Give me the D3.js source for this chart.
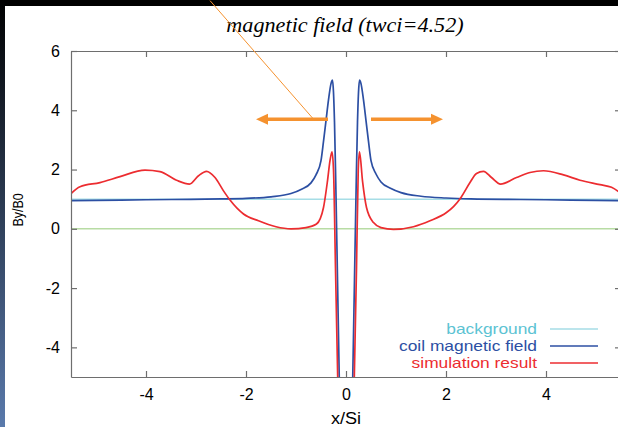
<!DOCTYPE html>
<html>
<head>
<meta charset="utf-8">
<script src="https://cdn.jsdelivr.net/npm/d3@7"></script>
<style>
  body { margin: 0; background: #000; }
  svg { display: block; }
</style>
</head>
<body>
<div id="chart"></div>
<script>
// values, [x/Si, By/B0]
const coilField = [
  [-5.5, 0.95], [-4.5, 0.97], [-3.5, 0.99], [-2.5, 1.01], [-2.0, 1.03], [-1.5, 1.08],
  [-1.1, 1.19], [-0.9, 1.33], [-0.7, 1.55], [-0.6, 1.82], [-0.5, 2.3], [-0.45, 2.95],
  [-0.4, 3.65], [-0.35, 4.35], [-0.3, 4.9], [-0.27, 5.02], [-0.25, 4.6], [-0.23, 3.6],
  [-0.205, 1.6], [-0.17, -1.7], [-0.135, -5.0], [-0.1, -8.0],
  [0.1, -8.0], [0.135, -5.0], [0.17, -1.7], [0.205, 1.6], [0.23, 3.6], [0.25, 4.6],
  [0.27, 5.02], [0.3, 4.9], [0.35, 4.35], [0.4, 3.65], [0.45, 2.95], [0.5, 2.3],
  [0.6, 1.85], [0.7, 1.58], [0.9, 1.36], [1.1, 1.22], [1.5, 1.1], [2.0, 1.04],
  [2.5, 1.01], [3.5, 0.99], [4.5, 0.97], [5.5, 0.95]
];
const simResult = [
  [-5.5, 1.19], [-5.32, 1.42], [-4.92, 1.56], [-4.52, 1.76], [-4.02, 1.98], [-3.72, 1.93],
  [-3.39, 1.64], [-3.13, 1.51], [-2.95, 1.79], [-2.79, 1.94], [-2.62, 1.73], [-2.45, 1.28],
  [-2.32, 0.97], [-2.05, 0.5], [-1.75, 0.27], [-1.4, 0.07], [-1.1, 0.0], [-0.8, 0.04],
  [-0.59, 0.16], [-0.45, 0.72], [-0.37, 1.62], [-0.32, 2.3], [-0.28, 2.6], [-0.25, 2.0],
  [-0.21, -1.33], [-0.166, -5.0], [-0.13, -8.0],
  [0.13, -8.0], [0.166, -5.0], [0.21, -1.33], [0.245, 2.0], [0.27, 2.6], [0.33, 1.62],
  [0.41, 0.72], [0.55, 0.21], [0.7, 0.04], [0.95, -0.02], [1.35, 0.07], [1.68, 0.27],
  [2.01, 0.55], [2.15, 0.75], [2.3, 1.06], [2.48, 1.56], [2.61, 1.87], [2.75, 1.94],
  [2.91, 1.73], [3.09, 1.51], [3.41, 1.73], [3.68, 1.9], [3.95, 1.96], [4.35, 1.82],
  [4.68, 1.64], [5.08, 1.49], [5.31, 1.4], [5.5, 1.2]
];
const background = [[-5.5, 1], [5.5, 1]];
const zeroLine = [[-5.5, 0], [5.5, 0]];

const xTicks = [-4, -2, 0, 2, 4];
const yTicks = [-4, -2, 0, 2, 4, 6];
const legendNames = ['background', 'coil magnetic field', 'simulation result'];
const colors = { bg: '#a6dde6', bgText: '#5cc3d3', coil: '#2c4fa3', sim: '#ec2c30', zero: '#b8dca4' };

const width = 618, height = 427;
const margin = { top: 51, right: -3, bottom: 50, left: 71 };
const sans = 'Liberation Sans, Arial, sans-serif';
const stretch = 1.13; // the source text is a little wider than tall

const svg = d3.select('#chart').append('svg')
  .attr('width', width)
  .attr('height', height);

// slide background bits
const defs = svg.append('defs');
const grad = defs.append('linearGradient')
  .attr('id', 'side').attr('x1', 0).attr('y1', 0).attr('x2', 0).attr('y2', 1);
grad.append('stop').attr('offset', '0%').attr('stop-color', '#000');
grad.append('stop').attr('offset', '100%').attr('stop-color', '#5a7aac');
svg.append('rect').attr('width', width).attr('height', height).attr('fill', '#000');
svg.append('rect').attr('x', 0).attr('y', 0).attr('width', 5).attr('height', height).attr('fill', 'url(#side)');
svg.append('rect').attr('x', 5).attr('y', 6).attr('width', width - 5).attr('height', height - 6).attr('fill', '#fff');

const x = d3.scaleLinear().domain([-5.5, 5.5]).range([margin.left, width - margin.right]);
const y = d3.scaleLinear().domain([-5, 6]).range([height - margin.bottom, margin.top]);

defs.append('clipPath').attr('id', 'plot')
  .append('rect')
  .attr('x', x(-5.5)).attr('y', y(6))
  .attr('width', x(5.5) - x(-5.5)).attr('height', y(-5) - y(6));

const line = d3.line().x(d => x(d[0])).y(d => y(d[1])).curve(d3.curveMonotoneX);

const plot = svg.append('g').attr('clip-path', 'url(#plot)');
plot.append('path').datum(zeroLine).attr('d', line)
  .attr('fill', 'none').attr('stroke', colors.zero).attr('stroke-width', 1.5);
plot.append('path').datum(background).attr('d', line)
  .attr('fill', 'none').attr('stroke', colors.bg).attr('stroke-width', 1.5);
plot.append('path').datum(coilField).attr('d', line)
  .attr('fill', 'none').attr('stroke', colors.coil).attr('stroke-width', 1.7);
plot.append('path').datum(simResult).attr('d', line)
  .attr('fill', 'none').attr('stroke', colors.sim).attr('stroke-width', 1.7);

// axes, ticks pointing inward on all four sides
const axisColor = '#6e6e6e';
const plain = d => String(d); // hyphen minus like the source
function styleAxis(g) {
  g.selectAll('.domain').attr('stroke', axisColor).attr('stroke-width', 1.2);
  g.selectAll('.tick line').attr('stroke', axisColor).attr('stroke-width', 1.2);
  g.selectAll('.tick text').attr('fill', '#000')
    .attr('font-family', sans).attr('font-size', 16);
}
svg.append('g')
  .attr('transform', `translate(0,${y(-5)})`)
  .call(d3.axisBottom(x).tickValues(xTicks).tickFormat(plain).tickSizeInner(-6).tickSizeOuter(0).tickPadding(12))
  .call(styleAxis);
svg.append('g')
  .attr('transform', `translate(0,${y(6)})`)
  .call(d3.axisTop(x).tickValues(xTicks).tickSizeInner(-6).tickSizeOuter(0).tickFormat(''))
  .call(styleAxis);
svg.append('g')
  .attr('transform', `translate(${x(-5.5)},0)`)
  .call(d3.axisLeft(y).tickValues(yTicks).tickFormat(plain).tickSizeInner(-6).tickSizeOuter(0).tickPadding(11))
  .call(styleAxis);
svg.append('g')
  .attr('transform', `translate(${x(5.5)},0)`)
  .call(d3.axisRight(y).tickValues(yTicks).tickSizeInner(-6).tickSizeOuter(0).tickFormat(''))
  .call(styleAxis);

// titles
svg.append('text')
  .attr('transform', 'translate(345,32) scale(1.11,1)')
  .attr('text-anchor', 'middle')
  .attr('font-family', 'Liberation Serif, Times New Roman, serif')
  .attr('font-style', 'italic').attr('font-size', 20)
  .text('magnetic field (twci=4.52)');
svg.append('text')
  .attr('transform', `translate(${x(0)},424) scale(${stretch},1)`)
  .attr('text-anchor', 'middle')
  .attr('font-family', sans).attr('font-size', 16)
  .text('x/Si');
svg.append('text')
  .attr('transform', `translate(23,${y(0.64)}) scale(${stretch},1) rotate(-90)`)
  .attr('text-anchor', 'middle')
  .attr('font-family', sans).attr('font-size', 12.5)
  .text('By/B0');

// legend
const legendColors = [colors.bg, colors.coil, colors.sim];
const legendText = [colors.bgText, colors.coil, colors.sim];
const legend = svg.append('g').selectAll('g')
  .data(legendNames)
  .join('g')
  .attr('transform', (d, i) => `translate(0,${329 + i * 17})`);
legend.append('text')
  .attr('transform', 'translate(537,5) scale(1.19,1)')
  .attr('text-anchor', 'end')
  .attr('font-family', sans).attr('font-size', 14.6)
  .attr('fill', (d, i) => legendText[i])
  .text(d => d);
legend.append('line')
  .attr('x1', 550).attr('x2', 598)
  .attr('stroke', (d, i) => legendColors[i]).attr('stroke-width', 1.7);

// orange annotation: pointer line and two arrows (data units)
const orange = '#f5922f';
const pointer = [[-2.72, 7.7], [-0.66, 3.72]];
const arrows = [[[-0.36, 3.7], [-1.8, 3.7]], [[0.5, 3.7], [1.94, 3.7]]];
svg.append('line')
  .attr('x1', x(pointer[0][0])).attr('y1', y(pointer[0][1]))
  .attr('x2', x(pointer[1][0])).attr('y2', y(pointer[1][1]))
  .attr('stroke', orange).attr('stroke-width', 1);
arrows.forEach(a => {
  const x0 = x(a[0][0]), x1 = x(a[1][0]), yy = y(a[0][1]);
  const dir = Math.sign(x1 - x0);
  svg.append('line')
    .attr('x1', x0).attr('y1', yy).attr('x2', x1 - dir * 8).attr('y2', yy)
    .attr('stroke', orange).attr('stroke-width', 3.5);
  svg.append('path')
    .attr('d', `M${x1},${yy}L${x1 - dir * 12},${yy - 5.5}L${x1 - dir * 12},${yy + 5.5}Z`)
    .attr('fill', orange);
});
</script>
</body>
</html>
